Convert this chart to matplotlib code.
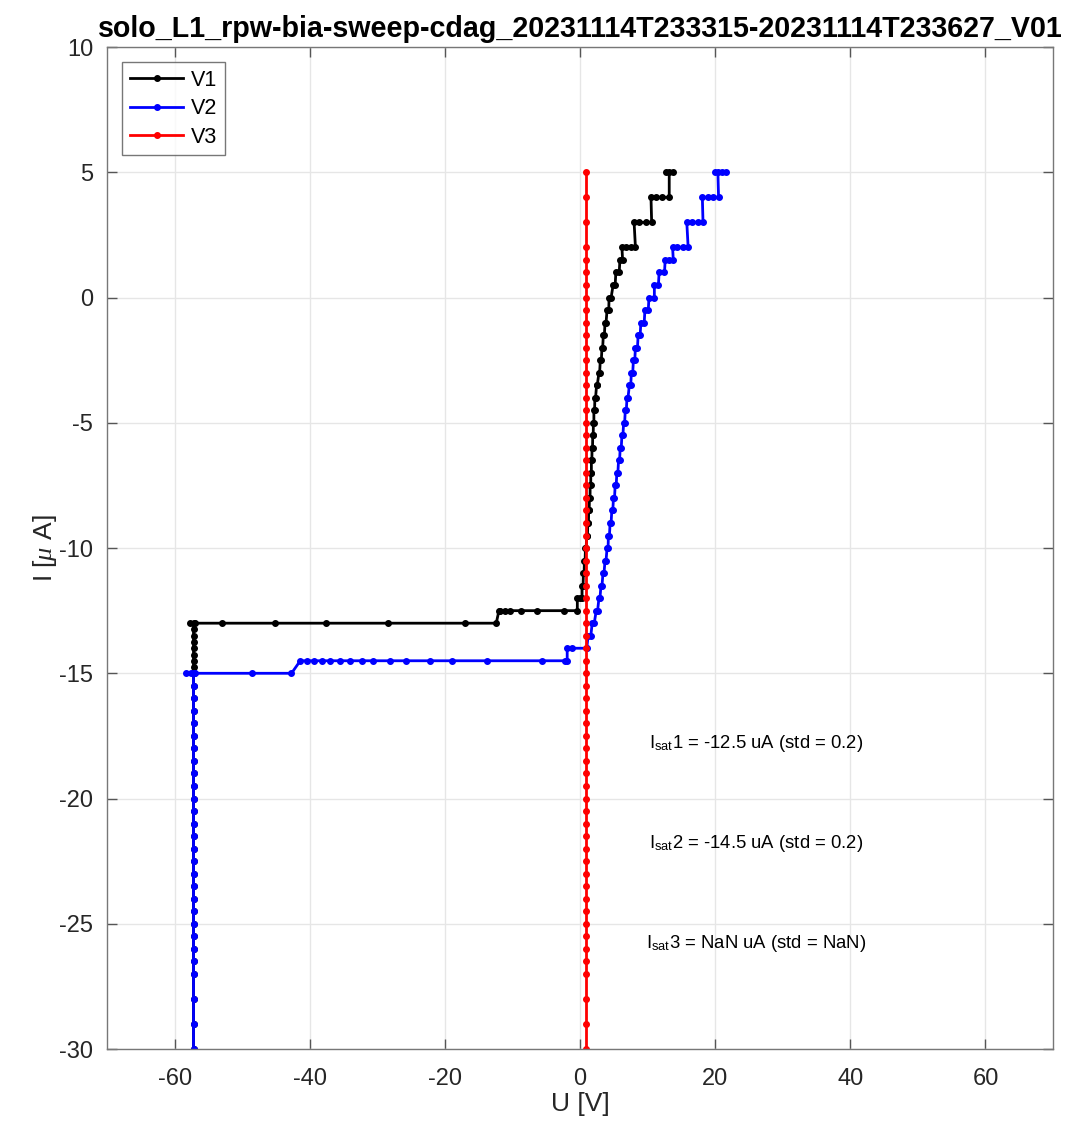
import matplotlib
matplotlib.use("Agg")
import matplotlib.pyplot as plt

plt.rcParams['font.family'] = ['Liberation Sans', 'DejaVu Sans']
plt.rcParams['mathtext.fontset'] = 'custom'
plt.rcParams['mathtext.rm'] = 'Liberation Sans'
plt.rcParams['mathtext.it'] = 'Liberation Serif:italic'
plt.rcParams['axes.unicode_minus'] = False

# V1 sweep (U [V], I [uA])
V1_U = [-57.2, -57.2, -57.2, -57.2, -57.2, -57.2, -57.2, -57.2, -57.2, -57.2,
        -57.2, -57.2, -57.2, -57.2, -57.2, -57.2, -57.2, -57.2, -57.2, -57.2,
        -57.2, -57.2, -57.2, -57.2, -57.2, -57.2, -57.2, -57.2, -57.2, -57.2,
        -57.2, -57.2, -57.2, -57.2, -57.2,
        -57.2, -57.7, -57.0, -53.0, -45.2, -37.6, -28.4, -17.0, -12.4,
        -12.0, -11.8, -11.1, -10.3, -8.8, -6.4, -2.3, -0.4,
        -0.4, 0.0, 0.3,
        0.3, 0.45, 0.5, 0.6, 0.65, 0.75, 0.8, 0.9, 1.0, 1.1, 1.15, 1.25,
        1.28, 1.35, 1.4, 1.48, 1.5, 1.58, 1.6, 1.68, 1.68, 1.75, 1.78, 1.85,
        1.88, 1.95, 1.98, 2.05, 2.05, 2.15, 2.2, 2.3, 2.45, 2.55, 2.8, 2.9,
        3.0, 3.15, 3.25, 3.35, 3.45, 3.6, 3.7, 3.85, 4.0, 4.25, 4.3, 4.6,
        4.9, 5.2, 5.3, 5.8, 5.9, 6.3,
        6.2, 6.8, 7.5, 8.2,
        8.0, 8.8, 9.7, 10.6,
        10.5, 11.3, 12.1, 13.2,
        13.2, 12.7, 13.8]
V1_I = [-30, -29, -28, -27, -26.5, -26, -25.5, -25, -24.5, -24,
        -23.5, -23, -22.5, -22, -21.5, -21, -20.5, -20, -19.5, -19,
        -18.5, -18, -17.5, -17, -16.5, -16, -15.5, -15, -14.75, -14.5,
        -14.25, -14, -13.75, -13.5, -13.25,
        -13, -13, -13, -13, -13, -13, -13, -13, -13,
        -12.5, -12.5, -12.5, -12.5, -12.5, -12.5, -12.5, -12.5,
        -12, -12, -12,
        -11.5, -11.5, -11, -11, -10.5, -10.5, -10, -10, -9.5, -9.5, -9, -9,
        -8.5, -8.5, -8, -8, -7.5, -7.5, -7, -7, -6.5, -6.5, -6, -6,
        -5.5, -5.5, -5, -5, -4.5, -4.5, -4, -4, -3.5, -3.5, -3, -3,
        -2.5, -2.5, -2, -2, -1.5, -1.5, -1, -1, -0.5, -0.5, 0, 0,
        0.5, 0.5, 1, 1, 1.5, 1.5,
        2, 2, 2, 2,
        3, 3, 3, 3,
        4, 4, 4, 4,
        5, 5, 5]

# V2 sweep
V2_U = [-57.2, -57.2, -57.2, -57.2, -57.2, -57.2, -57.2, -57.2, -57.2, -57.2,
        -57.2, -57.2, -57.2, -57.2, -57.2, -57.2, -57.2, -57.2, -57.2, -57.2,
        -57.2, -57.2, -57.2, -57.2, -57.2, -57.2, -57.2,
        -57.2, -58.3, -57.6, -57.0, -48.6, -42.7,
        -41.4, -40.4, -39.3, -38.2, -37.0, -35.5, -34.0, -32.3, -30.6, -28.1,
        -25.7, -22.2, -18.9, -13.8, -5.7, -2.2, -1.9,
        -1.9, -1.2, 1.0,
        1.2, 1.6, 1.8, 2.1, 2.4, 2.6, 2.8, 2.95, 3.1, 3.25, 3.4, 3.55,
        3.7, 3.85, 4.0, 4.15, 4.2, 4.35, 4.45, 4.6, 4.7, 4.85, 4.95, 5.1,
        5.2, 5.35, 5.45, 5.6, 5.7, 5.85, 5.95, 6.1, 6.2, 6.35, 6.45, 6.6,
        6.7, 6.85, 6.95, 7.1, 7.3, 7.5, 7.6, 7.8, 7.9, 8.1, 8.2, 8.5,
        8.6, 8.9, 9.0, 9.5, 9.6, 10.1, 10.2, 11.0, 11.0, 11.6, 11.7, 12.5,
        12.6, 13.2, 13.8,
        13.7, 14.4, 15.2, 16.0,
        15.8, 16.6, 17.4, 18.2,
        18.1, 18.9, 19.7, 20.5,
        20.4, 20.0, 21.0, 21.6]
V2_I = [-30, -29, -28, -27, -26.5, -26, -25.5, -25, -24.5, -24,
        -23.5, -23, -22.5, -22, -21.5, -21, -20.5, -20, -19.5, -19,
        -18.5, -18, -17.5, -17, -16.5, -16, -15.5,
        -15, -15, -15, -15, -15, -15,
        -14.5, -14.5, -14.5, -14.5, -14.5, -14.5, -14.5, -14.5, -14.5, -14.5,
        -14.5, -14.5, -14.5, -14.5, -14.5, -14.5, -14.5,
        -14, -14, -14,
        -13.5, -13.5, -13, -13, -12.5, -12.5, -12, -12, -11.5, -11.5, -11, -11,
        -10.5, -10.5, -10, -10, -9.5, -9.5, -9, -9, -8.5, -8.5, -8, -8,
        -7.5, -7.5, -7, -7, -6.5, -6.5, -6, -6, -5.5, -5.5, -5, -5,
        -4.5, -4.5, -4, -4, -3.5, -3.5, -3, -3, -2.5, -2.5, -2, -2,
        -1.5, -1.5, -1, -1, -0.5, -0.5, 0, 0, 0.5, 0.5, 1, 1,
        1.5, 1.5, 1.5,
        2, 2, 2, 2,
        3, 3, 3, 3,
        4, 4, 4, 4,
        5, 5, 5, 5]

# V3 sweep (flat at ~1 V)
V3_I = [-30, -29, -28, -27, -26.5, -26, -25.5, -25, -24.5, -24,
        -23.5, -23, -22.5, -22, -21.5, -21, -20.5, -20, -19.5, -19,
        -18.5, -18, -17.5, -17, -16.5, -16, -15.5, -15, -14.5, -14,
        -13.5, -13, -12.5, -12, -11.5, -11, -10.5, -10, -9.5, -9,
        -8.5, -8, -7.5, -7, -6.5, -6, -5.5, -5, -4.5, -4,
        -3.5, -3, -2.5, -2, -1.5, -1, -0.5, 0, 0.5, 1,
        1.5, 2, 3, 4, 5]
V3_U = [0.95, 0.95, 0.95, 0.95, 0.95, 0.95, 0.95, 0.95, 0.95, 0.95,
        0.95, 0.95, 0.95, 0.95, 0.95, 0.95, 0.95, 0.95, 0.95, 0.95,
        0.95, 0.95, 0.95, 0.95, 0.95, 0.95, 0.95, 0.95, 0.95, 0.95,
        0.95, 0.95, 0.95, 0.95, 0.95, 0.95, 0.95, 0.95, 0.95, 0.95,
        0.95, 0.95, 0.95, 0.95, 0.95, 0.95, 0.95, 0.95, 0.95, 0.95,
        0.95, 0.95, 0.95, 0.95, 0.95, 0.95, 0.95, 0.95, 0.95, 0.95,
        0.95, 0.95, 0.95, 0.95, 0.95]

labels = ['V1', 'V2', 'V3']
isat_text = [r'I$_{\rm sat}$1 = -12.5 uA (std = 0.2)',
             r'I$_{\rm sat}$2 = -14.5 uA (std = 0.2)',
             r'I$_{\rm sat}$3 = NaN uA (std = NaN)']
isat_pos = [(26, -17.8), (26, -21.8), (26, -25.8)]

fig = plt.figure(figsize=(10.68, 11.28), dpi=100)
ax = fig.add_axes([0.1002, 0.0700, 0.8858, 0.8883])

ax.plot(V1_U, V1_I, '.-', color='black', lw=2, ms=8, label=labels[0])
ax.plot(V2_U, V2_I, '.-', color='blue', lw=2, ms=8, label=labels[1])
ax.plot(V3_U, V3_I, '.-', color='red', lw=2, ms=8, label=labels[2])

for txt, (x, y) in zip(isat_text, isat_pos):
    ax.text(x, y, txt, ha='center', va='center', fontsize=13.3, color='black')

ax.set_xlim(-70, 70)
ax.set_ylim(-30, 10)
ax.set_xticks([-60, -40, -20, 0, 20, 40, 60])
ax.set_yticks([-30, -25, -20, -15, -10, -5, 0, 5, 10])
ax.grid(True, color='#e6e6e6', lw=1)
ax.set_axisbelow(True)
ax.tick_params(direction='in', length=7, width=1, colors='#555555',
               labelcolor='#262626', labelsize=17, top=True, right=True)
ax.tick_params(axis='x', pad=14)
ax.tick_params(axis='y', pad=10)
for s in ax.spines.values():
    s.set_color('#777777')
    s.set_linewidth(1)

ax.set_xlabel('U [V]', fontsize=19, color='#262626', labelpad=1)
ax.set_ylabel(r'I [$\mu$ A]', fontsize=19, color='#262626', labelpad=0)
ax.set_title('solo_L1_rpw-bia-sweep-cdag_20231114T233315-20231114T233627_V01',
             fontsize=20.6, fontweight='bold', pad=7)

leg = ax.legend(loc='upper left', fontsize=15.5, frameon=True, fancybox=False,
                edgecolor='#555555', borderpad=0.35, handlelength=2.5,
                handletextpad=0.35, labelspacing=0.35, borderaxespad=0.7)
leg.get_frame().set_linewidth(1)

fig.savefig('out.png', dpi=100)
